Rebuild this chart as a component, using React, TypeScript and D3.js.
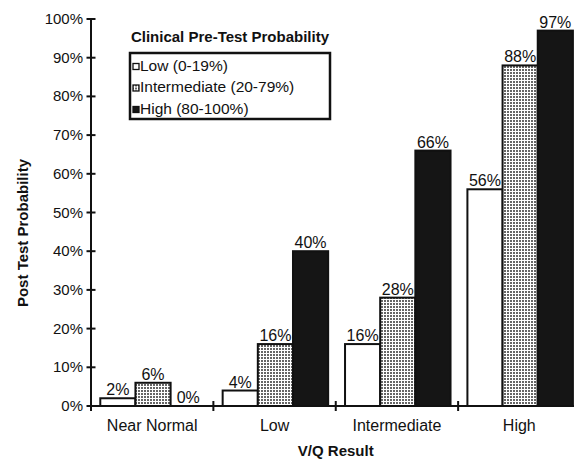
import React from "react";
import * as d3 from "d3";

const categories = ["Near Normal", "Low", "Intermediate", "High"];
const seriesNames = ["Low (0-19%)", "Intermediate (20-79%)", "High (80-100%)"];
const lowValues = [2, 4, 16, 56];
const intermediateValues = [6, 16, 28, 88];
const highValues = [0, 40, 66, 97];
const yTicks = [0, 10, 20, 30, 40, 50, 60, 70, 80, 90, 100];

const W = 574;
const H = 460;
const left = 91;
const right = 580.5;
const top = 19;
const bottom = 406;
const FONT = "'Liberation Sans', Arial, Helvetica, sans-serif";

export default function App() {
  const series = [lowValues, intermediateValues, highValues];
  const x = d3.scaleBand<string>().domain(categories).range([left, right]).padding(0);
  const xi = d3
    .scaleBand<string>()
    .domain(seriesNames)
    .range([0, x.bandwidth()])
    .paddingInner(0)
    .paddingOuter(0.24)
    .align(0.55);
  const y = d3.scaleLinear().domain([0, 100]).range([bottom, top]);
  const fills = ["#ffffff", "url(#stipple)", "#151515"];

  const boundaries = categories.map((c) => x(c) as number).concat([right]);

  return (
    <svg
      width={W}
      height={H}
      style={{ position: "absolute", left: 0, top: 0, background: "#fff" }}
      fontFamily={FONT}
    >
      <defs>
        <pattern id="stipple" width={3} height={3} patternUnits="userSpaceOnUse">
          <rect width={3} height={3} fill="#ffffff" />
          <rect x={0} y={0} width={2} height={2} fill="#666" />
        </pattern>
      </defs>
      <rect width={W} height={H} fill="#fff" />

      {/* bars */}
      {categories.map((c, ci) =>
        series.map((vals, si) => {
          const v = vals[ci];
          const bx = (x(c) as number) + (xi(seriesNames[si]) as number);
          const bw = xi.bandwidth();
          const by = y(v);
          return (
            <g key={c + si}>
              {v > 0 && (
                <rect
                  x={bx}
                  y={by}
                  width={bw}
                  height={bottom - by}
                  fill={fills[si]}
                  stroke="#111"
                  strokeWidth={2}
                />
              )}
              <text
                x={bx + bw / 2}
                y={by - 3}
                textAnchor="middle"
                fontSize={16}
                fill="#111"
              >
                {v}%
              </text>
            </g>
          );
        })
      )}

      {/* y axis */}
      <line x1={left} x2={left} y1={top} y2={bottom} stroke="#111" strokeWidth={2} />
      {yTicks.map((t) => (
        <g key={t}>
          <line x1={left - 4.5} x2={left + 4.5} y1={y(t)} y2={y(t)} stroke="#111" strokeWidth={2} />
          <text
            x={left - 8}
            y={y(t) + 5}
            textAnchor="end"
            fontSize={15}
            fill="#111"
          >
            {t}%
          </text>
        </g>
      ))}

      {/* x axis */}
      <line x1={left} x2={right} y1={bottom} y2={bottom} stroke="#111" strokeWidth={2} />
      {boundaries.map((b, i) => (
        <line key={i} x1={b} x2={b} y1={bottom - 5} y2={bottom + 5} stroke="#111" strokeWidth={2} />
      ))}
      {categories.map((c) => (
        <text
          key={c}
          x={(x(c) as number) + x.bandwidth() / 2}
          y={431}
          textAnchor="middle"
          fontSize={16}
          fill="#111"
        >
          {c}
        </text>
      ))}

      {/* axis titles */}
      <text
        x={(left + right) / 2}
        y={456}
        textAnchor="middle"
        fontSize={15}
        fontWeight="bold"
        fill="#111"
      >
        V/Q Result
      </text>
      <text
        transform={`translate(28, 233) rotate(-90)`}
        textAnchor="middle"
        fontSize={15}
        fontWeight="bold"
        fill="#111"
      >
        Post Test Probability
      </text>

      {/* legend */}
      <text x={230} y={42} textAnchor="middle" fontSize={15} fontWeight="bold" fill="#111">
        Clinical Pre-Test Probability
      </text>
      <rect x={130} y={53} width={200} height={66} fill="#fff" stroke="#111" strokeWidth={2.5} />
      {seriesNames.map((s, i) => (
        <g key={s} transform={`translate(0, ${i * 21.5})`}>
          <rect
            x={133}
            y={63.5}
            width={6}
            height={6}
            fill={fills[i]}
            stroke="#111"
            strokeWidth={1.3}
          />
          <text x={140} y={70.5} fontSize={15.5} fill="#111">
            {s}
          </text>
        </g>
      ))}
    </svg>
  );
}
